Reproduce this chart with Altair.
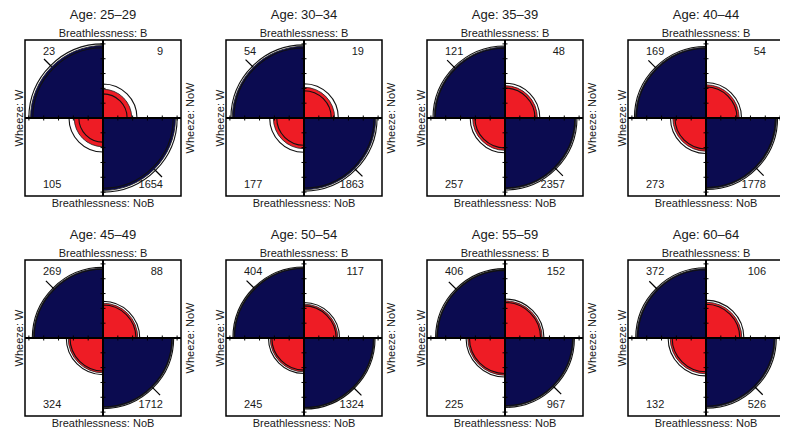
import altair as alt
import numpy as np
import pandas as pd

# Coal miners: counts per age group (Breathlessness x Wheeze)
ages = ["25–29", "30–34", "35–39", "40–44", "45–49", "50–54", "55–59", "60–64"]
b_w = [23, 54, 121, 169, 269, 404, 406, 372]          # B & W    (top-left)
b_now = [9, 19, 48, 54, 88, 117, 152, 106]            # B & NoW  (top-right)
nob_w = [105, 177, 257, 273, 324, 245, 225, 132]      # NoB & W  (bottom-left)
nob_now = [1654, 1863, 2357, 1778, 1712, 1324, 967, 526]  # NoB & NoW (bottom-right)

NAVY = "#0b0b50"
RED = "#ee1c25"
FONT = "Liberation Sans"
TXT = "#1a1a1a"
S = 156          # panel size (px)
R = S / 2        # max radius (px)
TICKS = [0.19, 0.38, 0.57, 0.76, 0.95]

unit_x = alt.Scale(domain=[-1, 1], nice=False, zero=False)
unit_y = alt.Scale(domain=[-1, 1], nice=False, zero=False)
theta_scale = alt.Scale(domain=[0, 4], nice=False)
rad_scale = alt.Scale(type="sqrt", domain=[0, 1], range=[0, R], nice=False)


def std_prop(odds):
    s = np.sqrt(odds)
    return s / (1 + s)


def panel(i):
    a, b, c, d = b_w[i], b_now[i], nob_w[i], nob_now[i]
    lor = np.log(a * d / (b * c))
    se = np.sqrt(1 / a + 1 / b + 1 / c + 1 / d)
    p = std_prop(np.exp(lor))
    lo = std_prop(np.exp(lor - 1.96 * se))
    hi = std_prop(np.exp(lor + 1.96 * se))

    # quadrant order: 0 = top-right, 1 = bottom-right, 2 = bottom-left, 3 = top-left
    kind = ["off", "diag", "off", "diag"]
    fills = pd.DataFrame({
        "q0": [0, 1, 2, 3], "q1": [1, 2, 3, 4],
        "p": [1 - p, p, 1 - p, p], "kind": kind,
    })
    ring_rows = []
    for q in range(4):
        for v in (lo, hi):
            ring_rows.append({"q0": q, "q1": q + 1,
                              "p": v if kind[q] == "diag" else 1 - v})
    rings = pd.DataFrame(ring_rows)

    s = np.sqrt(p)
    h = np.sqrt(0.5)
    diag = pd.DataFrame({
        "x": [-s * h, s * h], "y": [s * h, -s * h],
        "x2": [-(s + 0.14) * h, (s + 0.14) * h],
        "y2": [(s + 0.14) * h, -(s + 0.14) * h],
    })
    ticks = pd.DataFrame({"t": [-t for t in TICKS] + TICKS})
    one = pd.DataFrame({"k": [0]})

    th = alt.Theta("q0:Q", scale=theta_scale, stack=None)
    th2 = alt.Theta2("q1")
    rad = alt.Radius("p:Q", scale=rad_scale, stack=None)

    fill_layer = alt.Chart(fills).mark_arc(stroke="#1a1a1a", strokeWidth=0.8).encode(
        theta=th, theta2=th2, radius=rad,
        color=alt.Color("kind:N", scale=alt.Scale(domain=["diag", "off"], range=[NAVY, RED]), legend=None),
    )
    ring_layer = alt.Chart(rings).mark_arc(filled=False, color="#111111", strokeWidth=1.1).encode(
        theta=th, theta2=th2, radius=rad,
    )
    hline = alt.Chart(one).mark_rule(color="black", strokeWidth=2).encode(
        x=alt.value(0), x2=alt.value(S), y=alt.value(R))
    vline = alt.Chart(one).mark_rule(color="black", strokeWidth=2).encode(
        y=alt.value(0), y2=alt.value(S), x=alt.value(R))
    hticks = alt.Chart(ticks).mark_rule(color="black", strokeWidth=1).encode(
        x=alt.X("t:Q", scale=unit_x, axis=None), y=alt.value(R - 2.5), y2=alt.value(R + 2.5))
    vticks = alt.Chart(ticks).mark_rule(color="black", strokeWidth=1).encode(
        y=alt.Y("t:Q", scale=unit_y, axis=None), x=alt.value(R - 2.5), x2=alt.value(R + 2.5))
    diag_layer = alt.Chart(diag).mark_rule(color="black", strokeWidth=1.2).encode(
        x=alt.X("x:Q", scale=unit_x, axis=None), y=alt.Y("y:Q", scale=unit_y, axis=None),
        x2="x2:Q", y2="y2:Q")

    def count(val, align, xv, yv):
        return alt.Chart(pd.DataFrame({"n": [val]})).mark_text(
            align=align, baseline="alphabetic", font=FONT, fontSize=11, color=TXT
        ).encode(text="n:Q", x=alt.value(xv), y=alt.value(yv))

    def label(txt, size, xv, yv, angle=0):
        kw = dict(align="center", baseline="alphabetic", font=FONT, fontSize=size,
                  color=TXT, text=txt)
        if angle:
            kw["angle"] = angle
        return alt.Chart(one).mark_text(**kw).encode(x=alt.value(xv), y=alt.value(yv))

    layers = [
        fill_layer, ring_layer, hline, vline, hticks, vticks, diag_layer,
        count(a, "left", 18, 15), count(b, "right", S - 18, 15),
        count(c, "left", 18, S - 8), count(d, "right", S - 18, S - 8),
        label("Age: " + ages[i], 13, R, -21),
        label("Breathlessness: B", 11, R, -3.5),
        label("Breathlessness: NoB", 11, R, S + 11),
        label("Wheeze: W", 11, -2.5, R, 270),
        label("Wheeze: NoW", 11, S + 12.5, R, 270),
    ]
    return alt.layer(*layers).properties(width=S, height=S)


panels = [panel(i) for i in range(8)]
chart = alt.concat(
    *panels, columns=4, spacing={"row": 64, "column": 45}, bounds="flush"
).properties(
    autosize=alt.AutoSizeParams(type="none"),
    padding={"left": 17, "top": 32, "right": 755, "bottom": 398},
).configure(
    font=FONT,
    view=alt.ViewConfig(stroke="black", strokeWidth=1.5),
)

chart.save("out.html", embed_options={"renderer": "svg", "actions": False})
